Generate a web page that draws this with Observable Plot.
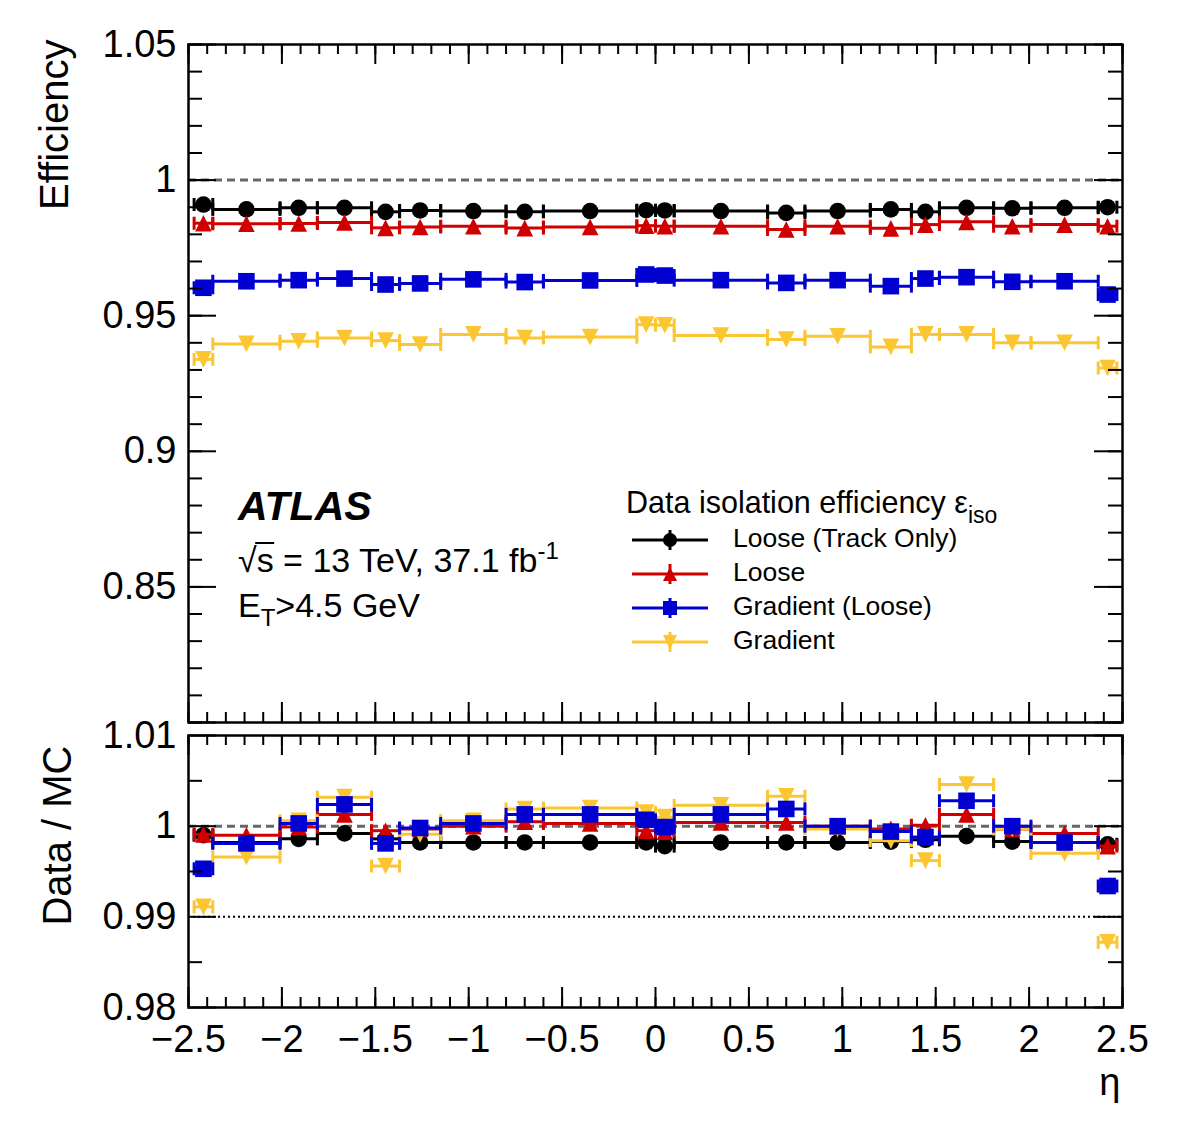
<!DOCTYPE html>
<html>
<head>
<meta charset="utf-8">
<script src="https://cdn.jsdelivr.net/npm/d3@7"></script>
<script src="https://cdn.jsdelivr.net/npm/@observablehq/plot@0.6"></script>
<style>
  html, body { margin: 0; padding: 0; background: #fff; }
  #chart { position: relative; width: 1182px; height: 1146px; font-family: "Liberation Sans", Arial, sans-serif; }
  #chart svg { position: absolute; left: 0; overflow: visible; }
</style>
</head>
<body>
<div id="chart"></div>
<script>
// eta binning (bin edges)
const binEdges = [-2.47, -2.37, -2.01, -1.81, -1.52, -1.37, -1.15, -0.8, -0.6, -0.1, 0,
                  0.1, 0.6, 0.8, 1.15, 1.37, 1.52, 1.81, 2.01, 2.37, 2.47];

// Data isolation efficiency per eta bin
const effTrackOnly = [0.9910, 0.9892, 0.9898, 0.9898, 0.9883, 0.9888, 0.9886, 0.9883, 0.9886, 0.9889,
                      0.9888, 0.9886, 0.9879, 0.9886, 0.9892, 0.9883, 0.9898, 0.9896, 0.9898, 0.9900];
const effLoose     = [0.9841, 0.9839, 0.9840, 0.9844, 0.9824, 0.9827, 0.9830, 0.9823, 0.9827, 0.9832,
                      0.9830, 0.9830, 0.9818, 0.9830, 0.9822, 0.9836, 0.9846, 0.9830, 0.9836, 0.9830];
const effGradLoose = [0.9603, 0.9627, 0.9631, 0.9637, 0.9615, 0.9619, 0.9634, 0.9624, 0.9630, 0.9652,
                      0.9648, 0.9631, 0.9621, 0.9631, 0.9609, 0.9637, 0.9642, 0.9625, 0.9627, 0.9578];
const effGradient  = [0.9339, 0.9396, 0.9406, 0.9418, 0.9408, 0.9394, 0.9431, 0.9418, 0.9421, 0.9467,
                      0.9465, 0.9427, 0.9412, 0.9424, 0.9385, 0.9431, 0.9431, 0.9400, 0.9400, 0.9307];

// Data / MC ratio per eta bin
const ratioTrackOnly = [0.9990, 0.9982, 0.9986, 0.9992, 0.9986, 0.9982, 0.9982, 0.9982, 0.9982, 0.9982,
                        0.9978, 0.9982, 0.9982, 0.9982, 0.9983, 0.9985, 0.9989, 0.9983, 0.9982, 0.9980];
const ratioLoose     = [0.9991, 0.9990, 0.9999, 1.0013, 0.9995, 0.9997, 1.0000, 1.0005, 1.0003, 0.9995,
                        0.9994, 1.0004, 1.0004, 1.0000, 0.9997, 1.0001, 1.0013, 0.9997, 0.9992, 0.9978];
const ratioGradLoose = [0.9953, 0.9981, 1.0003, 1.0024, 0.9981, 0.9998, 1.0003, 1.0013, 1.0013, 1.0007,
                        0.9999, 1.0013, 1.0019, 1.0000, 0.9994, 0.9988, 1.0028, 1.0000, 0.9982, 0.9934];
const ratioGradient  = [0.9911, 0.9966, 1.0006, 1.0032, 0.9956, 0.9991, 1.0006, 1.0019, 1.0020, 1.0015,
                        1.0010, 1.0023, 1.0033, 0.9997, 0.9984, 0.9962, 1.0046, 0.9997, 0.9970, 0.9872];

const seriesLabels = ["Loose (Track Only)", "Loose", "Gradient (Loose)", "Gradient"];
const xTickLabels = [-2.5, -2, -1.5, -1, -0.5, 0, 0.5, 1, 1.5, 2, 2.5];
const effTickLabels = [1.05, 1, 0.95, 0.9, 0.85];
const ratioTickLabels = [1.01, 1, 0.99, 0.98];

// styling
const FONT = "'Liberation Sans', Arial, Helvetica, sans-serif";
const seriesColors = ["#000000", "#d00000", "#0000d0", "#fcc632"];
const drawOrder = [0, 1, 3, 2];

// marker shapes (fixed pixel size)
const circleSym = h => ({draw(c) { c.moveTo(h, 0); c.arc(0, 0, h, 0, 2 * Math.PI); c.closePath(); }});
const squareSym = h => ({draw(c) { c.moveTo(-h, -h); c.lineTo(h, -h); c.lineTo(h, h); c.lineTo(-h, h); c.closePath(); }});
const triUpSym = h => ({draw(c) { c.moveTo(0, -h); c.lineTo(h, h); c.lineTo(-h, h); c.closePath(); }});
const triDownSym = h => ({draw(c) { c.moveTo(0, h); c.lineTo(h, -h); c.lineTo(-h, -h); c.closePath(); }});
const capSym = h => ({draw(c) { c.moveTo(0, -h); c.lineTo(0, h); }});
const symbolMakers = [circleSym, triUpSym, squareSym, triDownSym];

const fmtNum = d => d3.format("")(d);

function rowsFor(values) {
  return values.map((v, i) => ({lo: binEdges[i], hi: binEdges[i + 1], mid: (binEdges[i] + binEdges[i + 1]) / 2, v}));
}

function seriesMarks(values, k) {
  const rows = rowsFor(values);
  const color = seriesColors[k];
  const cap = capSym(6.5);
  return [
    Plot.ruleY(rows, {y: "v", x1: "lo", x2: "hi", stroke: color, strokeWidth: 3}),
    Plot.dot(rows, {x: "lo", y: "v", symbol: cap, stroke: color, strokeWidth: 3, fill: "none"}),
    Plot.dot(rows, {x: "hi", y: "v", symbol: cap, stroke: color, strokeWidth: 3, fill: "none"}),
    Plot.dot(rows, {x: "mid", y: "v", symbol: symbolMakers[k](8.3), fill: color, stroke: "none"})
  ];
}

// inward ticks on all four sides of the frame
function frameTicks({xd, yd, plotW, plotH, xMinor, xMajor, yMinor, yMajor, lenX, lenY}) {
  const kx = (xd[1] - xd[0]) / plotW, ky = (yd[1] - yd[0]) / plotH;
  const st = {stroke: "black", strokeWidth: 2};
  const marks = [];
  for (const [ticks, len] of [[xMinor, lenX / 2], [xMajor, lenX]]) {
    marks.push(Plot.ruleX(ticks, {x: d => d, y1: yd[0], y2: yd[0] + len * ky, ...st}));
    marks.push(Plot.ruleX(ticks, {x: d => d, y1: yd[1], y2: yd[1] - len * ky, ...st}));
  }
  for (const [ticks, len] of [[yMinor, lenY / 2], [yMajor, lenY]]) {
    marks.push(Plot.ruleY(ticks, {y: d => d, x1: xd[0], x2: xd[0] + len * kx, ...st}));
    marks.push(Plot.ruleY(ticks, {y: d => d, x1: xd[1], x2: xd[1] - len * kx, ...st}));
  }
  return marks;
}

const W = 1182, ML = 188, MR = 60;
const xDomain = [-2.5, 2.5];
const xMinor = d3.range(-25, 26).map(i => i / 10);

// ---------- upper panel: efficiency ----------
const effDomain = [0.80, 1.05];
const topH = 740, topMT = 44, topMB = 18;
const topSvg = Plot.plot({
  width: W, height: topH,
  marginLeft: ML, marginRight: MR, marginTop: topMT, marginBottom: topMB,
  x: {domain: xDomain, axis: null},
  y: {domain: effDomain, axis: null},
  style: {fontFamily: FONT, background: "transparent", overflow: "visible", color: "black"},
  marks: [
    Plot.ruleY([1], {stroke: "#666666", strokeWidth: 3, strokeDasharray: "8,5"}),
    ...drawOrder.flatMap(k => seriesMarks([effTrackOnly, effLoose, effGradLoose, effGradient][k], k)),
    ...frameTicks({xd: xDomain, yd: effDomain, plotW: W - ML - MR, plotH: topH - topMT - topMB,
      xMinor, xMajor: xTickLabels, yMinor: d3.range(80, 106).map(i => i / 100),
      yMajor: [0.8, ...effTickLabels], lenX: 20, lenY: 28}),
    Plot.frame({stroke: "black", strokeWidth: 2.5}),
    Plot.text(effTickLabels, {y: d => d, frameAnchor: "left", dx: -12, textAnchor: "end", text: fmtNum, fontSize: 38}),
    Plot.text(["Efficiency"], {frameAnchor: "top-left", dx: -149, dy: -5, rotate: -90, textAnchor: "end", fontSize: 40})
  ]
});
topSvg.style.top = "0px";

// ---------- lower panel: Data / MC ----------
const ratioDomain = [0.98, 1.01];
const botH = 446, botMT = 35, botMB = 139;
const botSvg = Plot.plot({
  width: W, height: botH,
  marginLeft: ML, marginRight: MR, marginTop: botMT, marginBottom: botMB,
  x: {domain: xDomain, axis: null},
  y: {domain: ratioDomain, axis: null},
  style: {fontFamily: FONT, background: "transparent", overflow: "visible", color: "black"},
  marks: [
    Plot.ruleY([1], {stroke: "#666666", strokeWidth: 3, strokeDasharray: "8,5"}),
    Plot.ruleY([0.99], {stroke: "black", strokeWidth: 2, strokeDasharray: "2,3"}),
    ...drawOrder.flatMap(k => seriesMarks([ratioTrackOnly, ratioLoose, ratioGradLoose, ratioGradient][k], k)),
    ...frameTicks({xd: xDomain, yd: ratioDomain, plotW: W - ML - MR, plotH: botH - botMT - botMB,
      xMinor, xMajor: xTickLabels, yMinor: [0.985, 0.995, 1.005],
      yMajor: ratioTickLabels, lenX: 20, lenY: 28}),
    Plot.frame({stroke: "black", strokeWidth: 2.5}),
    Plot.text(ratioTickLabels, {y: d => d, frameAnchor: "left", dx: -12, textAnchor: "end", text: fmtNum, fontSize: 38}),
    Plot.text(xTickLabels, {x: d => d, frameAnchor: "bottom", dy: 18, lineAnchor: "top", text: fmtNum, fontSize: 38}),
    Plot.text(["Data / MC"], {frameAnchor: "top-left", dx: -146, dy: 10, rotate: -90, textAnchor: "end", fontSize: 40}),
    Plot.text(["η"], {frameAnchor: "bottom-right", dx: -2, dy: 87, textAnchor: "end", fontSize: 38})
  ]
});
botSvg.style.top = "700px";

const chart = document.getElementById("chart");
chart.appendChild(topSvg);
chart.appendChild(botSvg);

// ---------- annotations and legend (upper panel) ----------
const g = d3.select(topSvg).append("g")
  .attr("font-family", FONT).attr("fill", "black").attr("text-anchor", "start");

g.append("text").attr("x", 238).attr("y", 520)
  .attr("font-size", 41).attr("font-weight", "bold").attr("font-style", "italic").text("ATLAS");

const lumi = g.append("text").attr("x", 238).attr("y", 572).attr("font-size", 34);
lumi.append("tspan").text("√s = 13 TeV, 37.1 fb");
lumi.append("tspan").attr("font-size", 24).attr("dy", -13).text("-1");
{
  const node = lumi.node();
  const x0 = node.getEndPositionOfChar(0).x - 1.5;
  const x1 = node.getEndPositionOfChar(1).x + 0.5;
  g.append("line").attr("x1", x0).attr("x2", x1).attr("y1", 543).attr("y2", 543)
    .attr("stroke", "black").attr("stroke-width", 2);
}

const et = g.append("text").attr("x", 238).attr("y", 617).attr("font-size", 34);
et.append("tspan").text("E");
et.append("tspan").attr("font-size", 24).attr("dy", 9).text("T");
et.append("tspan").attr("dy", -9).text(">4.5 GeV");

const lt = g.append("text").attr("x", 626).attr("y", 513).attr("font-size", 30.5);
lt.append("tspan").text("Data isolation efficiency ε");
lt.append("tspan").attr("font-size", 23).attr("dy", 10).text("iso");

seriesLabels.forEach((label, k) => {
  const y = 540 + 34 * k;
  const color = seriesColors[k];
  g.append("line").attr("x1", 632).attr("x2", 708).attr("y1", y).attr("y2", y)
    .attr("stroke", color).attr("stroke-width", 3);
  g.append("line").attr("x1", 670).attr("x2", 670).attr("y1", y - 10).attr("y2", y + 10)
    .attr("stroke", color).attr("stroke-width", 3);
  g.append("path").attr("transform", `translate(670,${y})`)
    .attr("d", d3.symbol(symbolMakers[k](7), 64)()).attr("fill", color);
  g.append("text").attr("x", 733).attr("y", y + 7).attr("font-size", 26.5).text(label);
});
</script>
</body>
</html>
